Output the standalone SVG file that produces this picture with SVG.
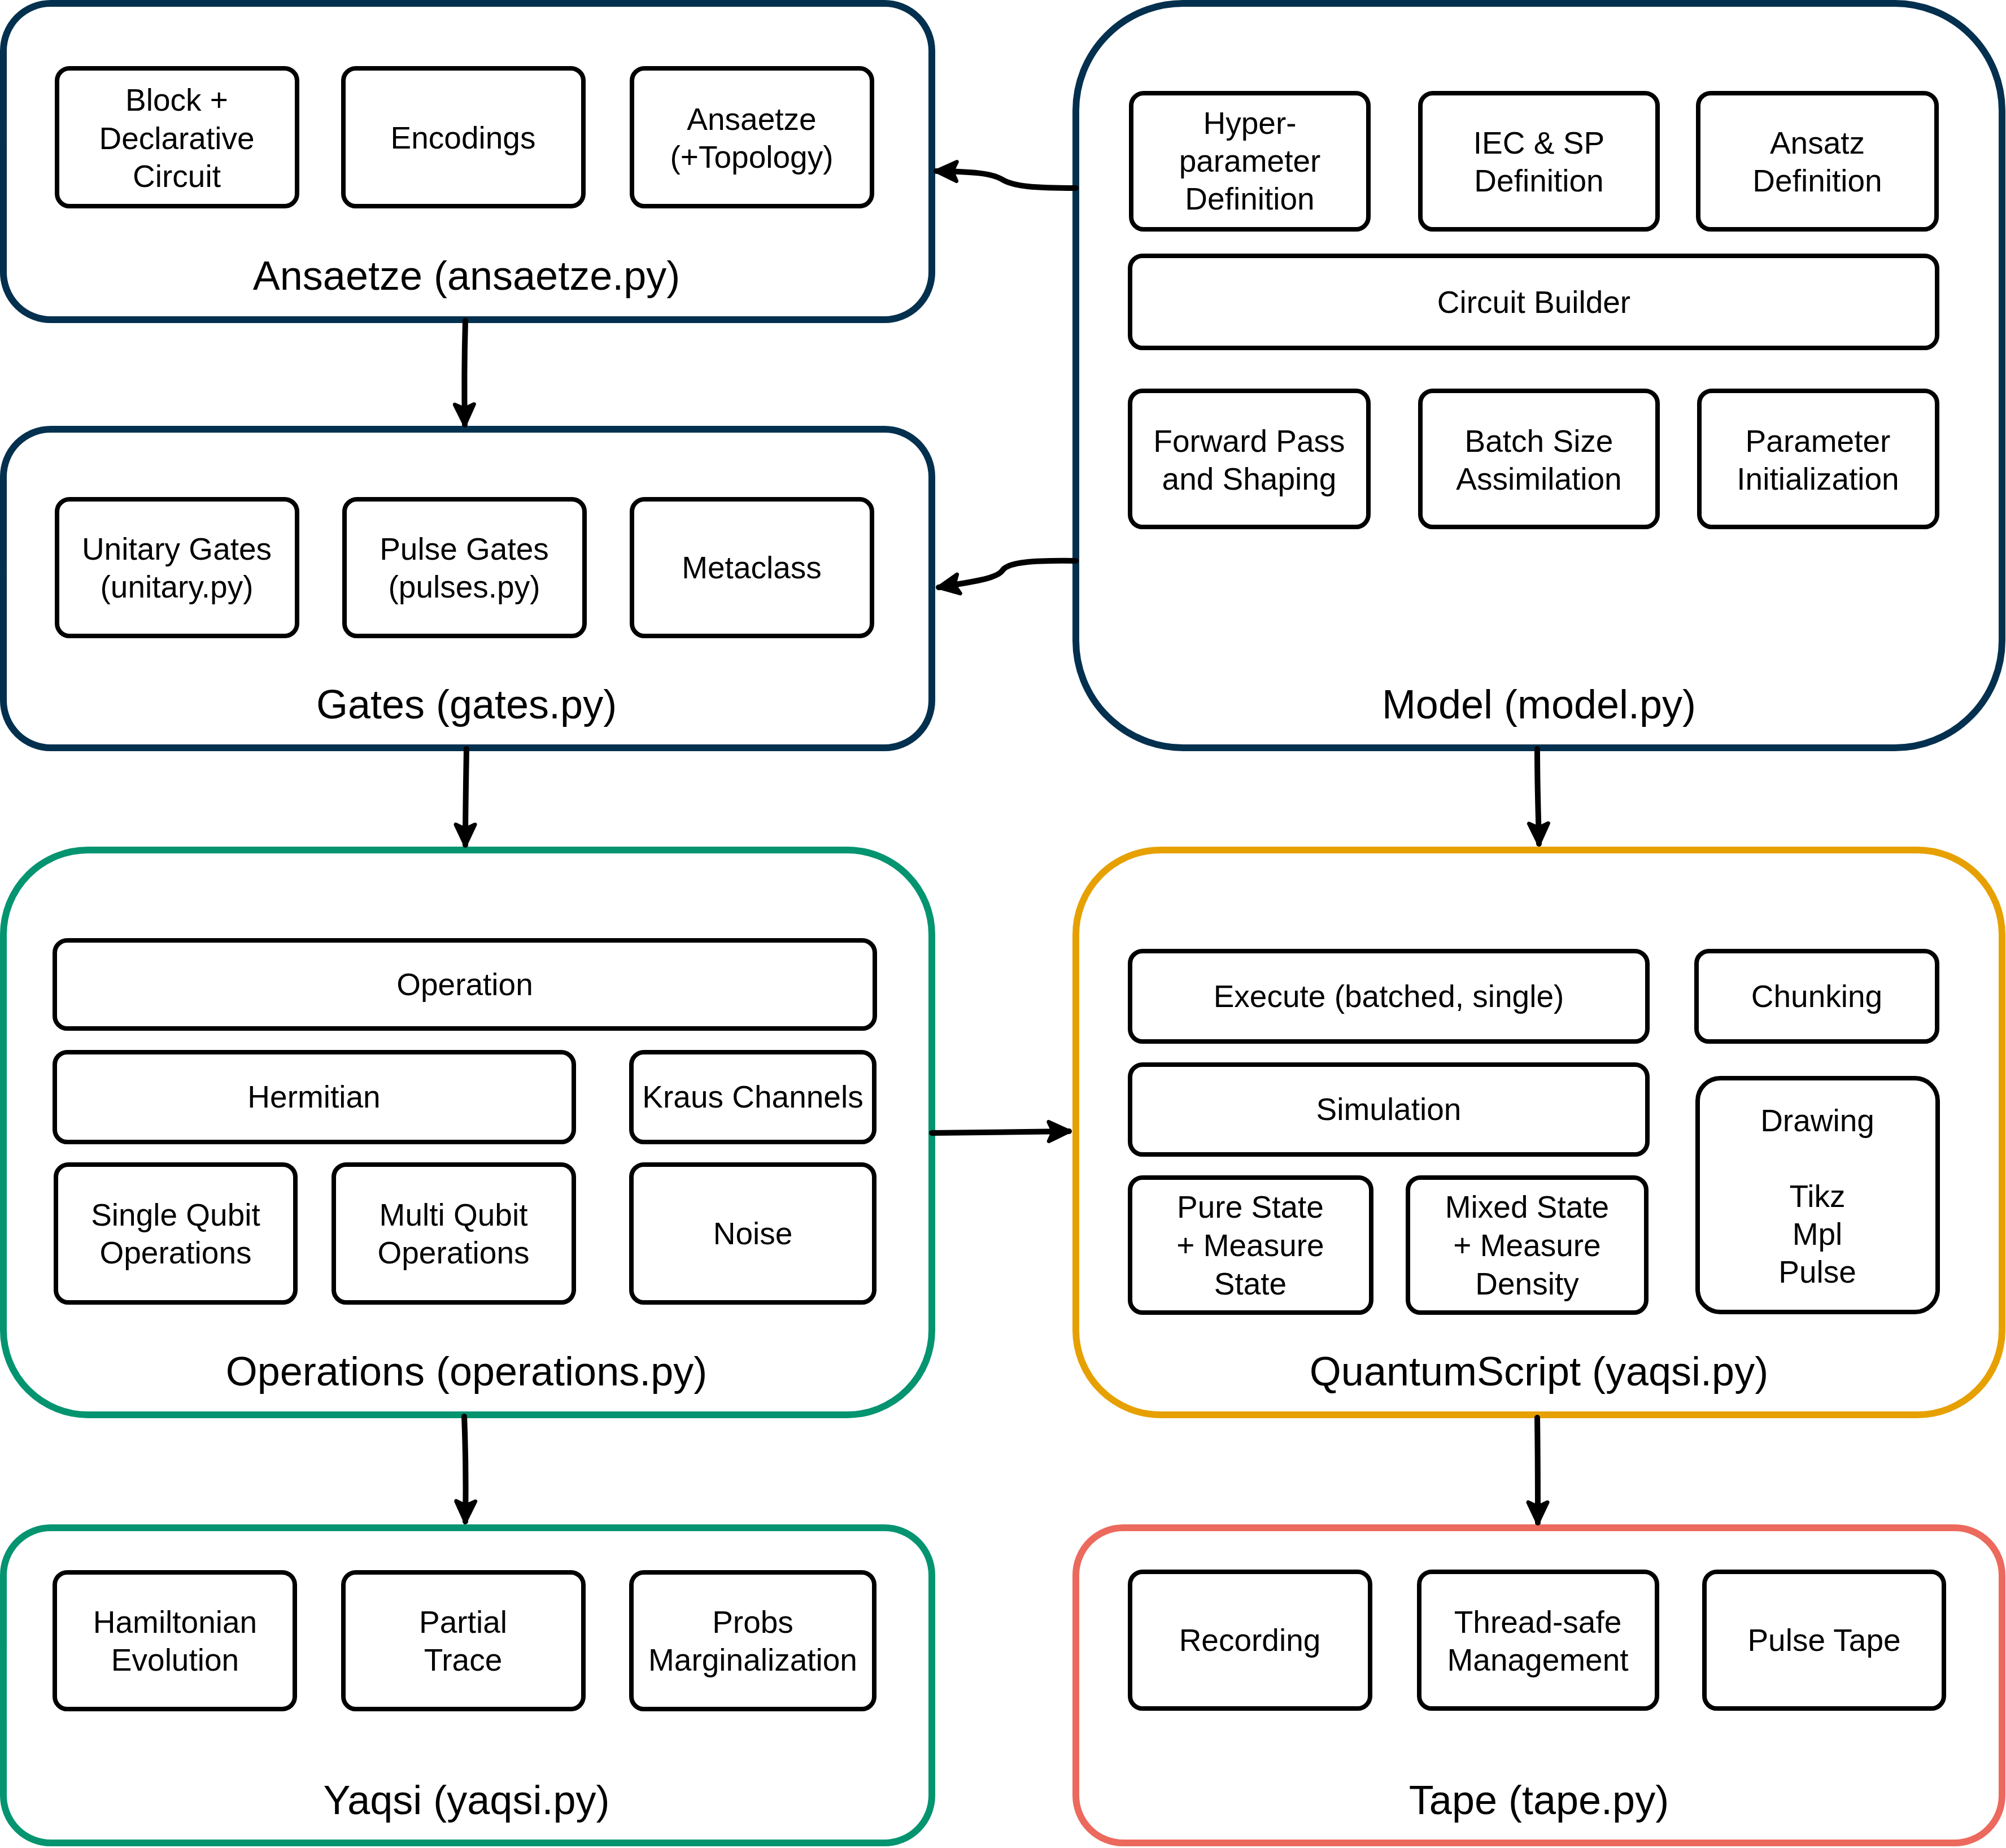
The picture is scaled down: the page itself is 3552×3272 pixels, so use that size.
<svg xmlns="http://www.w3.org/2000/svg" width="3552" height="3272" viewBox="0 0 3552 3272">
<style>
.c{fill:#ffffff;stroke-width:12;stroke-linejoin:round}
.navy{stroke:#03304E}
.green{stroke:#049470}
.orange{stroke:#E6A000}
.red{stroke:#EC695D}
.b{fill:#ffffff;stroke:#000000;stroke-width:8;stroke-linejoin:round}
.t{font-family:"Liberation Sans",Arial,Helvetica,sans-serif;font-size:55px;fill:#000000;text-anchor:middle}
.l{font-family:"Liberation Sans",Arial,Helvetica,sans-serif;font-size:72px;fill:#000000;text-anchor:middle}
.e{fill:none;stroke:#000000;stroke-width:10;stroke-linecap:round;stroke-linejoin:round}
</style>
<defs>
<marker id="arr" markerUnits="userSpaceOnUse" markerWidth="60" markerHeight="60" viewBox="-45 -30 50 60" refX="0" refY="0" orient="auto" overflow="visible">
<path d="M0,0 L-36,-17 L-28,0 L-36,17 Z" fill="#000000" stroke="#000000" stroke-width="7" stroke-linejoin="round"/>
</marker>
</defs>

<g id="ansaetze">
<rect class="c navy" x="6" y="6" width="1644" height="560" rx="84"/>
<rect class="b" x="101" y="121" width="425" height="244" rx="22"/>
<text class="t" x="313"><tspan x="313" y="196">Block +</tspan><tspan x="313" y="264">Declarative</tspan><tspan x="313" y="331">Circuit</tspan></text>
<rect class="b" x="608" y="121" width="425" height="244" rx="22"/>
<text class="t" x="820" y="263">Encodings</text>
<rect class="b" x="1119" y="121" width="425" height="244" rx="22"/>
<text class="t"><tspan x="1331" y="230">Ansaetze</tspan><tspan x="1331" y="297">(+Topology)</tspan></text>
<text class="l" x="826" y="513">Ansaetze (ansaetze.py)</text>
</g>

<g id="gates">
<rect class="c navy" x="6" y="760" width="1644" height="564" rx="84"/>
<rect class="b" x="101" y="884" width="425" height="242" rx="22"/>
<text class="t"><tspan x="313" y="991">Unitary Gates</tspan><tspan x="313" y="1058">(unitary.py)</tspan></text>
<rect class="b" x="610" y="884" width="425" height="242" rx="22"/>
<text class="t"><tspan x="822" y="991">Pulse Gates</tspan><tspan x="822" y="1058">(pulses.py)</tspan></text>
<rect class="b" x="1119" y="884" width="425" height="242" rx="22"/>
<text class="t" x="1331" y="1024">Metaclass</text>
<text class="l" x="826" y="1272">Gates (gates.py)</text>
</g>

<g id="model">
<rect class="c navy" x="1905" y="6" width="1640" height="1318" rx="190"/>
<rect class="b" x="2003" y="165" width="420" height="241" rx="22"/>
<text class="t"><tspan x="2213" y="237">Hyper-</tspan><tspan x="2213" y="304">parameter</tspan><tspan x="2213" y="371">Definition</tspan></text>
<rect class="b" x="2515" y="165" width="420" height="241" rx="22"/>
<text class="t"><tspan x="2725" y="272">IEC &amp; SP</tspan><tspan x="2725" y="339">Definition</tspan></text>
<rect class="b" x="3007" y="165" width="422" height="241" rx="22"/>
<text class="t"><tspan x="3218" y="272">Ansatz</tspan><tspan x="3218" y="339">Definition</tspan></text>
<rect class="b" x="2001" y="453" width="1429" height="163" rx="22"/>
<text class="t" x="2716" y="554">Circuit Builder</text>
<rect class="b" x="2001" y="692" width="422" height="241" rx="22"/>
<text class="t"><tspan x="2212" y="800">Forward Pass</tspan><tspan x="2212" y="867">and Shaping</tspan></text>
<rect class="b" x="2515" y="692" width="420" height="241" rx="22"/>
<text class="t"><tspan x="2725" y="800">Batch Size</tspan><tspan x="2725" y="867">Assimilation</tspan></text>
<rect class="b" x="3009" y="692" width="421" height="241" rx="22"/>
<text class="t"><tspan x="3219" y="800">Parameter</tspan><tspan x="3219" y="867">Initialization</tspan></text>
<text class="l" x="2725" y="1272">Model (model.py)</text>
</g>

<g id="operations">
<rect class="c green" x="6" y="1505" width="1644" height="1000" rx="150"/>
<rect class="b" x="97" y="1665" width="1452" height="156" rx="22"/>
<text class="t" x="823" y="1762">Operation</text>
<rect class="b" x="97" y="1863" width="919" height="159" rx="22"/>
<text class="t" x="556" y="1961">Hermitian</text>
<rect class="b" x="1118" y="1863" width="430" height="159" rx="22"/>
<text class="t" x="1333" y="1961">Kraus Channels</text>
<rect class="b" x="99" y="2062" width="424" height="244" rx="22"/>
<text class="t"><tspan x="311" y="2170">Single Qubit</tspan><tspan x="311" y="2237">Operations</tspan></text>
<rect class="b" x="591" y="2062" width="425" height="244" rx="22"/>
<text class="t"><tspan x="803" y="2170">Multi Qubit</tspan><tspan x="803" y="2237">Operations</tspan></text>
<rect class="b" x="1118" y="2062" width="430" height="244" rx="22"/>
<text class="t" x="1333" y="2203">Noise</text>
<text class="l" x="826" y="2453">Operations (operations.py)</text>
</g>

<g id="quantumscript">
<rect class="c orange" x="1905" y="1505" width="1640" height="1000" rx="150"/>
<rect class="b" x="2001" y="1684" width="916" height="160" rx="22"/>
<text class="t" x="2459" y="1783">Execute (batched, single)</text>
<rect class="b" x="3004" y="1684" width="426" height="160" rx="22"/>
<text class="t" x="3217" y="1783">Chunking</text>
<rect class="b" x="2001" y="1885" width="916" height="159" rx="22"/>
<text class="t" x="2459" y="1983">Simulation</text>
<rect class="b" x="2001" y="2085" width="427" height="239" rx="22"/>
<text class="t"><tspan x="2214" y="2156">Pure State</tspan><tspan x="2214" y="2224">+ Measure</tspan><tspan x="2214" y="2292">State</tspan></text>
<rect class="b" x="2493" y="2085" width="422" height="239" rx="22"/>
<text class="t"><tspan x="2704" y="2156">Mixed State</tspan><tspan x="2704" y="2224">+ Measure</tspan><tspan x="2704" y="2292">Density</tspan></text>
<rect class="b" x="3006" y="1909" width="425" height="414" rx="40"/>
<text class="t"><tspan x="3218" y="2003">Drawing</tspan><tspan x="3218" y="2137">Tikz</tspan><tspan x="3218" y="2204">Mpl</tspan><tspan x="3218" y="2271">Pulse</tspan></text>
<text class="l" x="2725" y="2453">QuantumScript (yaqsi.py)</text>
</g>

<g id="yaqsi">
<rect class="c green" x="6" y="2705" width="1644" height="558" rx="84"/>
<rect class="b" x="97" y="2784" width="425" height="242" rx="22"/>
<text class="t"><tspan x="310" y="2891">Hamiltonian</tspan><tspan x="310" y="2958">Evolution</tspan></text>
<rect class="b" x="608" y="2784" width="425" height="242" rx="22"/>
<text class="t"><tspan x="820" y="2891">Partial</tspan><tspan x="820" y="2958">Trace</tspan></text>
<rect class="b" x="1118" y="2784" width="430" height="242" rx="22"/>
<text class="t"><tspan x="1333" y="2891">Probs</tspan><tspan x="1333" y="2958">Marginalization</tspan></text>
<text class="l" x="826" y="3212">Yaqsi (yaqsi.py)</text>
</g>

<g id="tape">
<rect class="c red" x="1905" y="2705" width="1640" height="558" rx="84"/>
<rect class="b" x="2001" y="2783" width="425" height="242" rx="22"/>
<text class="t" x="2213" y="2923">Recording</text>
<rect class="b" x="2513" y="2783" width="421" height="242" rx="22"/>
<text class="t"><tspan x="2723" y="2891">Thread-safe</tspan><tspan x="2723" y="2958">Management</tspan></text>
<rect class="b" x="3018" y="2783" width="424" height="242" rx="22"/>
<text class="t" x="3230" y="2923">Pulse Tape</text>
<text class="l" x="2725" y="3212">Tape (tape.py)</text>
</g>

<g id="connectors">
<path class="e" d="M1905,333 C1830,333 1795,330 1775,318 C1755,306 1720,304 1658,303" marker-end="url(#arr)"/>
<path class="e" d="M1905,993 C1830,992 1785,995 1775,1010 C1765,1025 1720,1030 1662,1040" marker-end="url(#arr)"/>
<path class="e" d="M824,568 C822,640 822,700 823,752" marker-end="url(#arr)"/>
<path class="e" d="M826,1326 C825,1390 824,1440 824,1496" marker-end="url(#arr)"/>
<path class="e" d="M2722,1326 C2722,1400 2724,1440 2725,1494" marker-end="url(#arr)"/>
<path class="e" d="M1650,2006 C1740,2005 1820,2004 1893,2003" marker-end="url(#arr)"/>
<path class="e" d="M822,2508 C825,2580 825,2640 824,2694" marker-end="url(#arr)"/>
<path class="e" d="M2722,2510 C2723,2580 2723,2640 2723,2696" marker-end="url(#arr)"/>
</g>
</svg>
